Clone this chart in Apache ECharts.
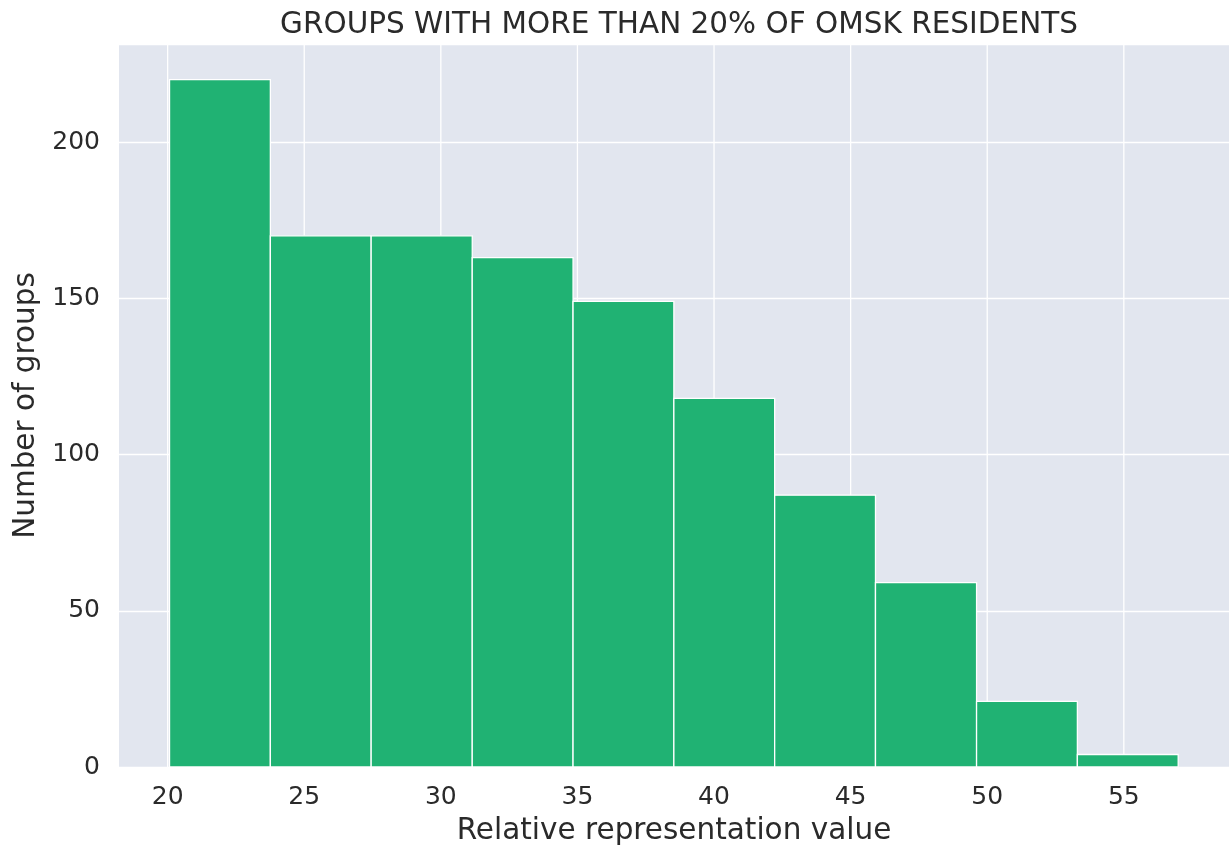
<!DOCTYPE html>
<html>
<head>
<meta charset="utf-8">
<script src="https://cdn.jsdelivr.net/npm/echarts@6/dist/echarts.min.js"></script>
<style>
html,body{margin:0;padding:0;background:#fff;}
#chart{width:1229px;height:851px;}
</style>
</head>
<body>
<div id="chart"></div>
<script>
const titleText = 'GROUPS WITH MORE THAN 20% OF OMSK RESIDENTS';
const xName = 'Relative representation value';
const yName = 'Number of groups';
const binEdges = [20.07, 23.76, 27.45, 31.15, 34.84, 38.53, 42.22, 45.91, 49.61, 53.30, 56.99];
const counts = [220, 170, 170, 163, 149, 118, 87, 59, 21, 4];
const xTicks = [20, 25, 30, 35, 40, 45, 50, 55];
const yTicks = [0, 50, 100, 150, 200];

const barData = counts.map((c, i) => [binEdges[i], binEdges[i + 1], c]);
const FONT = 'DejaVu Sans';
const TXT = '#2a2a2a';
const Y_MAX = 231.4;

const chart = echarts.init(document.getElementById('chart'), null, {renderer: 'canvas'});
chart.setOption({
  animation: false,
  backgroundColor: '#ffffff',
  title: {
    text: titleText,
    left: 674, top: 5, textAlign: 'center',
    textStyle: {fontFamily: FONT, fontSize: 29.5, fontWeight: 'normal', color: TXT}
  },
  grid: {
    left: 119, top: 44, right: 0, bottom: 84,
    show: true, backgroundColor: '#e2e6ef', borderWidth: 0
  },
  xAxis: {
    type: 'value', min: 18.22, max: 58.85,
    name: xName, nameLocation: 'middle', nameGap: 49,
    nameTextStyle: {fontFamily: FONT, fontSize: 29.5, color: TXT},
    axisLine: {show: false}, axisTick: {show: false},
    splitLine: {show: false},
    axisLabel: {customValues: xTicks, fontFamily: FONT, fontSize: 25, color: TXT, margin: 18,
      formatter: v => String(v)}
  },
  yAxis: {
    type: 'value', min: 0, max: Y_MAX, interval: 50,
    name: yName, nameLocation: 'middle', nameGap: 74,
    nameTextStyle: {fontFamily: FONT, fontSize: 29.5, color: TXT},
    axisLine: {show: false}, axisTick: {show: false},
    splitLine: {show: true, lineStyle: {color: '#ffffff', width: 1.3}},
    axisLabel: {customValues: yTicks, fontFamily: FONT, fontSize: 25, color: TXT, margin: 19,
      formatter: v => String(v)}
  },
  series: [
    {
      type: 'custom', z: 1, silent: true,
      data: xTicks.map(v => [v]),
      encode: {x: 0},
      renderItem: function (params, api) {
        const a = api.coord([api.value(0), 0]);
        const b = api.coord([api.value(0), Y_MAX]);
        return {
          type: 'line',
          shape: {x1: a[0], y1: a[1], x2: b[0], y2: b[1]},
          style: {stroke: '#ffffff', lineWidth: 1.3}
        };
      }
    },
    {
      type: 'custom', z: 2,
      data: barData,
      encode: {x: [0, 1], y: 2},
      renderItem: function (params, api) {
        const p0 = api.coord([api.value(0), 0]);
        const p1 = api.coord([api.value(1), api.value(2)]);
        return {
          type: 'rect',
          shape: {x: p0[0], y: p1[1], width: p1[0] - p0[0], height: p0[1] - p1[1]},
          style: {fill: '#20b273', stroke: '#ffffff', lineWidth: 1.3}
        };
      }
    }
  ]
});
</script>
</body>
</html>
